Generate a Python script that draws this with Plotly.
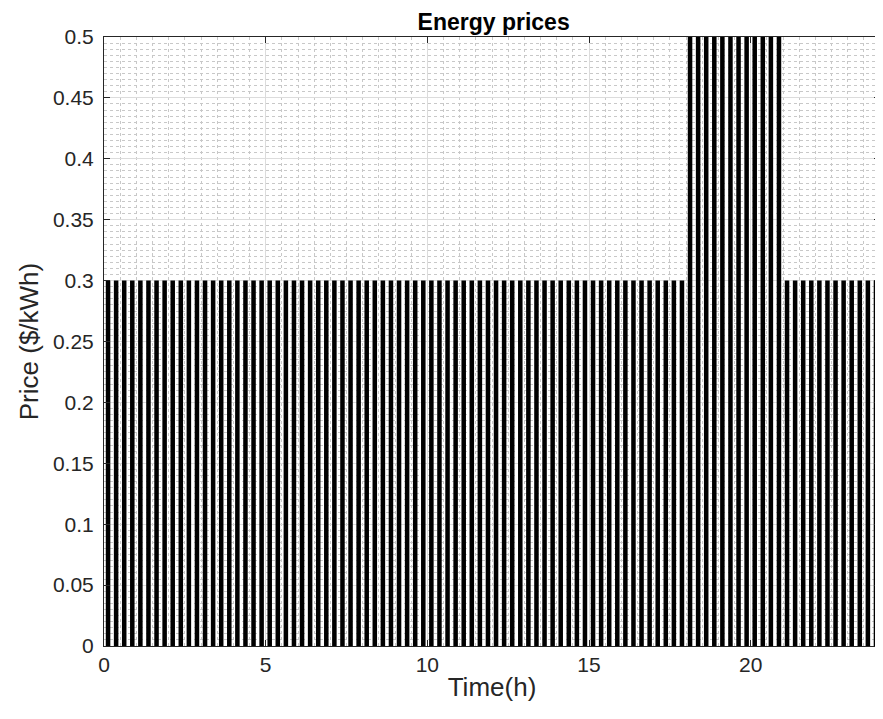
import plotly.graph_objects as go

# Time stamps (h), centres of 15-minute intervals
time_h = [
    0.125, 0.375, 0.625, 0.875, 1.125, 1.375, 1.625, 1.875,
    2.125, 2.375, 2.625, 2.875, 3.125, 3.375, 3.625, 3.875,
    4.125, 4.375, 4.625, 4.875, 5.125, 5.375, 5.625, 5.875,
    6.125, 6.375, 6.625, 6.875, 7.125, 7.375, 7.625, 7.875,
    8.125, 8.375, 8.625, 8.875, 9.125, 9.375, 9.625, 9.875,
    10.125, 10.375, 10.625, 10.875, 11.125, 11.375, 11.625, 11.875,
    12.125, 12.375, 12.625, 12.875, 13.125, 13.375, 13.625, 13.875,
    14.125, 14.375, 14.625, 14.875, 15.125, 15.375, 15.625, 15.875,
    16.125, 16.375, 16.625, 16.875, 17.125, 17.375, 17.625, 17.875,
    18.125, 18.375, 18.625, 18.875, 19.125, 19.375, 19.625, 19.875,
    20.125, 20.375, 20.625, 20.875, 21.125, 21.375, 21.625, 21.875,
    22.125, 22.375, 22.625, 22.875, 23.125, 23.375, 23.625, 23.875,
]

# Price ($/kWh) per interval
price = [
    0.3, 0.3, 0.3, 0.3, 0.3, 0.3, 0.3, 0.3,
    0.3, 0.3, 0.3, 0.3, 0.3, 0.3, 0.3, 0.3,
    0.3, 0.3, 0.3, 0.3, 0.3, 0.3, 0.3, 0.3,
    0.3, 0.3, 0.3, 0.3, 0.3, 0.3, 0.3, 0.3,
    0.3, 0.3, 0.3, 0.3, 0.3, 0.3, 0.3, 0.3,
    0.3, 0.3, 0.3, 0.3, 0.3, 0.3, 0.3, 0.3,
    0.3, 0.3, 0.3, 0.3, 0.3, 0.3, 0.3, 0.3,
    0.3, 0.3, 0.3, 0.3, 0.3, 0.3, 0.3, 0.3,
    0.3, 0.3, 0.3, 0.3, 0.3, 0.3, 0.3, 0.3,
    0.5, 0.5, 0.5, 0.5, 0.5, 0.5, 0.5, 0.5,
    0.5, 0.5, 0.5, 0.5, 0.3, 0.3, 0.3, 0.3,
    0.3, 0.3, 0.3, 0.3, 0.3, 0.3, 0.3, 0.3,
]

x_ticks = [0, 5, 10, 15, 20]
y_ticks = [0, 0.05, 0.1, 0.15, 0.2, 0.25, 0.3, 0.35, 0.4, 0.45, 0.5]
y_tick_labels = ["0", "0.05", "0.1", "0.15", "0.2", "0.25", "0.3", "0.35", "0.4", "0.45", "0.5"]

FONT = "Liberation Sans, Arial, Helvetica, sans-serif"

fig = go.Figure()
fig.add_trace(go.Bar(
    x=time_h, y=price, width=0.14,
    marker=dict(color="black", line=dict(width=0)),
    showlegend=False,
))

axis_common = dict(
    showline=True, linecolor="#262626", linewidth=1, mirror="allticks",
    ticks="inside", ticklen=6, tickcolor="#262626", tickwidth=1,
    showgrid=True, gridcolor="#dcdcdc", gridwidth=1,
    zeroline=False,
    tickfont=dict(family=FONT, size=21, color="#262626"),
)

fig.update_xaxes(
    range=[0, 24], tickvals=x_ticks,
    title=dict(text="Time(h)", font=dict(family=FONT, size=26, color="#262626"), standoff=2),
    minor=dict(dtick=0.5, tick0=0, showgrid=True, gridcolor="#c8c8c8", griddash="dot", gridwidth=1),
    **axis_common,
)
fig.update_yaxes(
    range=[0, 0.5], tickvals=y_ticks, ticktext=y_tick_labels,
    ticklabelstandoff=5,
    title=dict(text="Price ($/kWh)", font=dict(family=FONT, size=26, color="#262626"), standoff=6),
    minor=dict(dtick=0.005, tick0=0, showgrid=True, gridcolor="#c8c8c8", griddash="dot", gridwidth=1),
    **axis_common,
)

fig.update_layout(
    width=883, height=719,
    margin=dict(l=96, r=11, t=29, b=81),
    paper_bgcolor="white", plot_bgcolor="white",
    title=dict(text="<b>Energy prices</b>", x=0.55, xanchor="center", y=0.981, yanchor="middle",
               font=dict(family=FONT, size=23, color="black")),
)

fig.write_html("out.html")
